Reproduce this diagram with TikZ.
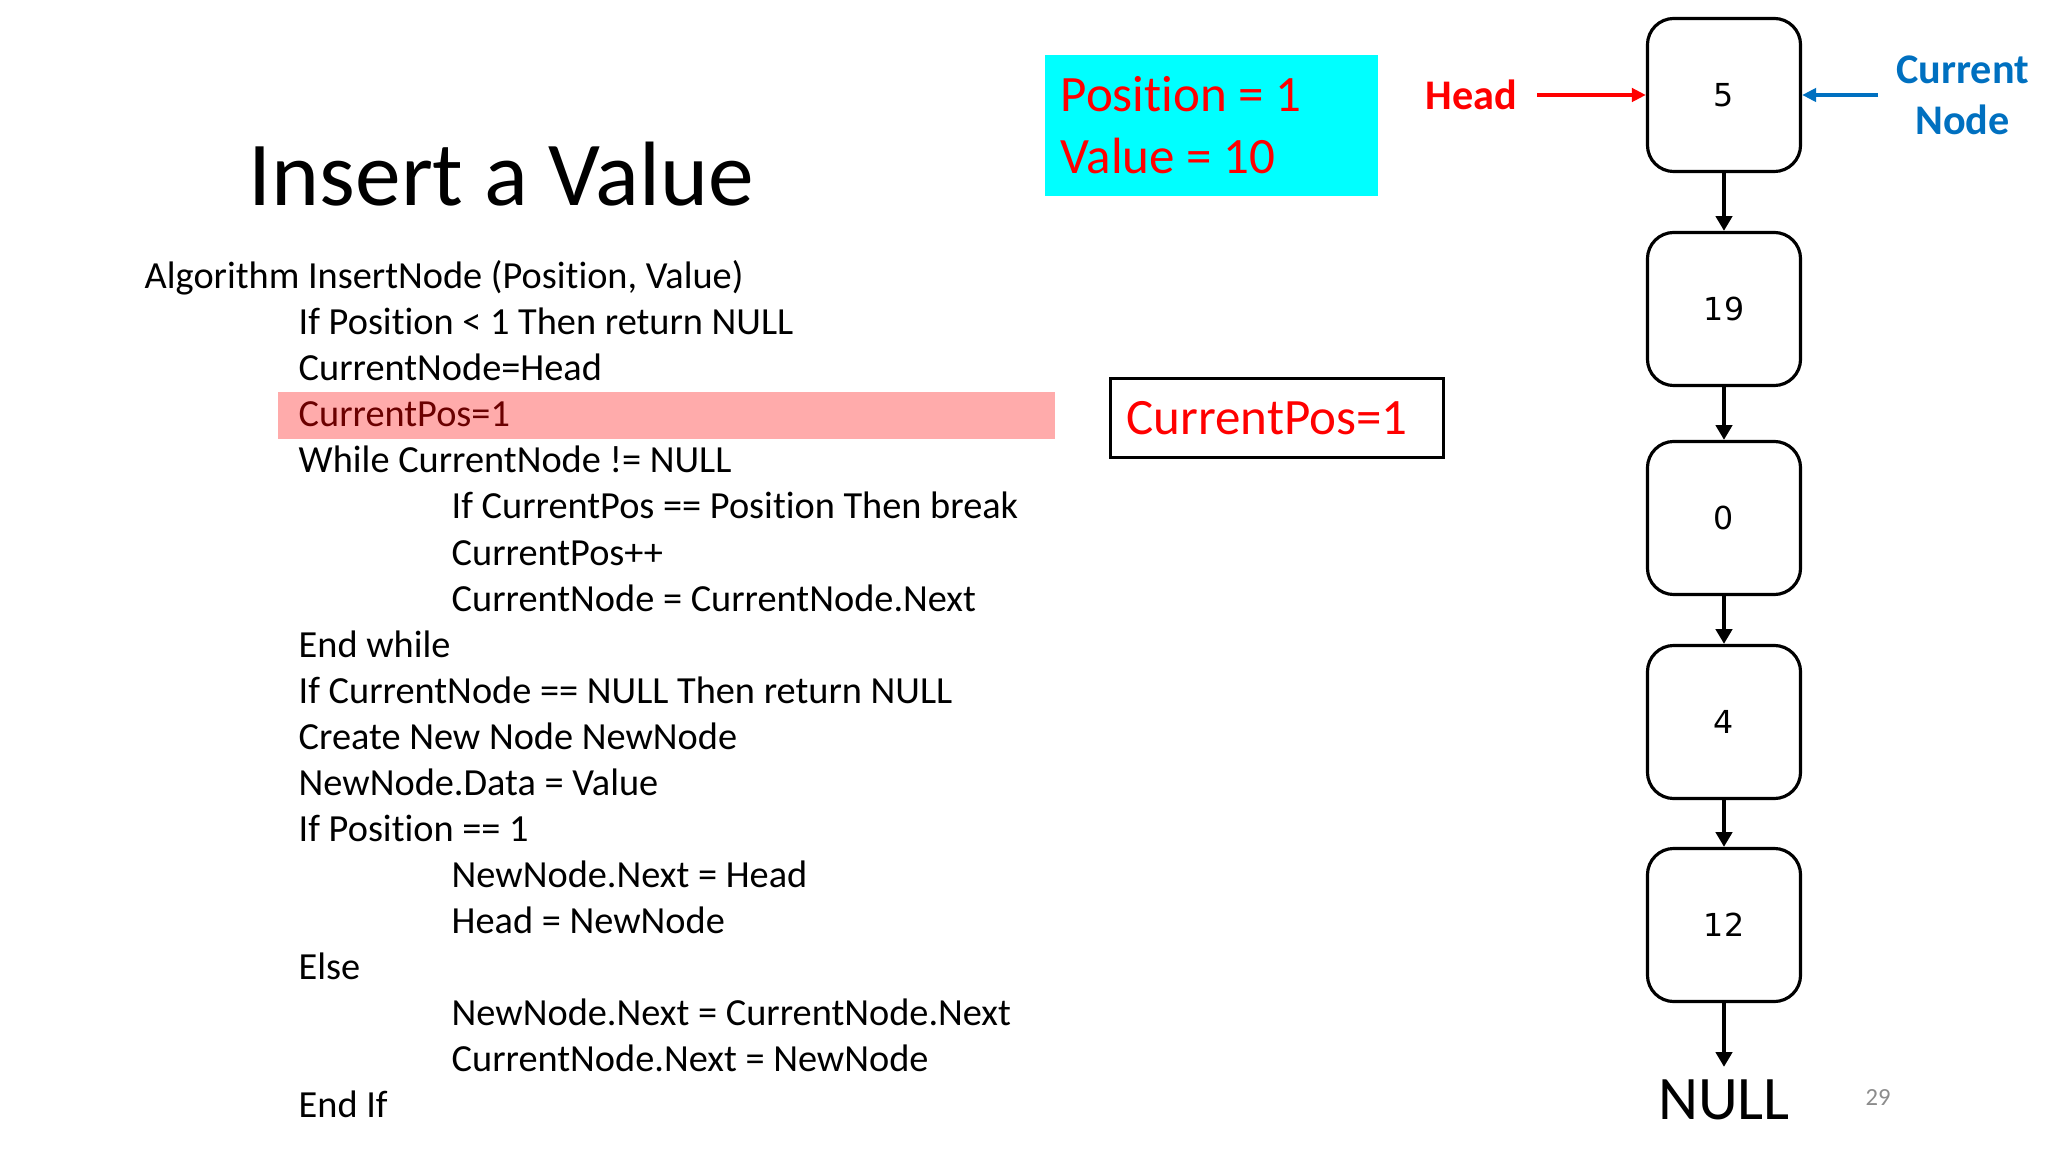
\documentclass[tikz,border=0pt]{standalone}
\usepackage{fontspec}
\setmainfont{Carlito}[Ligatures=NoCommon]
\newfontfamily\numfont{DejaVu Sans}
\usepackage{tikz}
\usetikzlibrary{arrows.meta}
\definecolor{hlpink}{HTML}{FFABAB}
\definecolor{hlred}{HTML}{6B0000}
\definecolor{boxcyan}{HTML}{00FFFF}
\definecolor{curblue}{HTML}{0070C0}
\definecolor{pagegray}{HTML}{8C8C8C}
\tikzset{
  codeline/.style={anchor=base west, inner sep=0pt, font=\fontsize{10.9}{13}\selectfont},
  redtext/.style={anchor=base west, inner sep=0pt, text=red, font=\fontsize{14.5}{17}\selectfont},
  listnode/.style={draw, line width=0.9pt, rounded corners=7.5pt, minimum width=1.53cm,
    minimum height=1.53cm, font=\numfont\fontsize{9}{10}\selectfont},
  link/.style={line width=1.3pt, -{Triangle[length=4.2pt,width=4.6pt]}},
  pointer/.style={line width=1.1pt, -{Triangle[length=4pt,width=3.8pt]}}
}

\begin{document}
\begin{tikzpicture}[x=0.01cm,y=-0.01cm]
%%%%%%%%%%%%%%%%%%Fix The Slide Size%%%%%%%%%%%%%%%%%%
\useasboundingbox (0,0) rectangle (2048,1152);

%%%%%%%%%%%%%%%%%%%%Draw The Title%%%%%%%%%%%%%%%%%%%%%
\node[anchor=base west, inner sep=0pt, font=\fontsize{26}{31}\selectfont] (title) at (248,206) {Insert a Value};

%%%%%%%%%%%%%Draw Highlight of Current Line%%%%%%%%%%%%
\fill[hlpink] (278,392) rectangle (1055,439);

%%%%%%%%%%%%%%%%%%Draw The Algorithm%%%%%%%%%%%%%%%%%%%
\node[codeline] (ln0) at (144,289) {Algorithm InsertNode (Position, Value)};
\node[codeline] (ln1) at (298,335) {If Position < 1 Then return NULL};
\node[codeline] (ln2) at (298,381) {CurrentNode=Head};
\node[codeline, text=hlred] (ln3) at (298,427) {CurrentPos=1};
\node[codeline] (ln4) at (298,473) {While CurrentNode != NULL};
\node[codeline] (ln5) at (451,519) {If CurrentPos == Position Then break};
\node[codeline] (ln6) at (451,565) {CurrentPos++};
\node[codeline] (ln7) at (451,611) {CurrentNode = CurrentNode.Next};
\node[codeline] (ln8) at (298,657) {End while};
\node[codeline] (ln9) at (298,703) {If CurrentNode == NULL Then return NULL};
\node[codeline] (ln10) at (298,749) {Create New Node NewNode};
\node[codeline] (ln11) at (298,795) {NewNode.Data = Value};
\node[codeline] (ln12) at (298,841) {If Position == 1};
\node[codeline] (ln13) at (451,887) {NewNode.Next = Head};
\node[codeline] (ln14) at (451,933) {Head = NewNode};
\node[codeline] (ln15) at (298,979) {Else};
\node[codeline] (ln16) at (451,1025) {NewNode.Next = CurrentNode.Next};
\node[codeline] (ln17) at (451,1071) {CurrentNode.Next = NewNode};
\node[codeline] (ln18) at (298,1117) {End If};

%%%%%%%%%%%%%%%%%Draw The Input Values%%%%%%%%%%%%%%%%%
\node[fill=boxcyan, anchor=north west, minimum width=3.33cm, minimum height=1.41cm] (params) at (1044,54) {};
\node[redtext] (posval) at (1060,112) {Position = 1};
\node[redtext] (valval) at (1060,174) {Value = 10};

%%%%%%%%%%%%%%%%%Draw The Counter Box%%%%%%%%%%%%%%%%%%
\node[draw, line width=0.75pt, anchor=north west, minimum width=3.33cm, minimum height=0.79cm] (posbox) at (1109,377) {};
\node[redtext] (counter) at (1126,435) {CurrentPos=1};

%%%%%%%%%%%%%%%%%Draw The Linked List%%%%%%%%%%%%%%%%%%
\node[listnode] (n1) at (1724,95) {5};
\node[listnode] (n2) at (1724,309) {19};
\node[listnode] (n3) at (1724,518) {0};
\node[listnode] (n4) at (1724,722) {4};
\node[listnode] (n5) at (1724,925) {12};
\node[anchor=base, font=\fontsize{17.6}{21}\selectfont] (nullnode) at (1724,1119) {NULL};

\draw[link] (n1) -- (n2);
\draw[link] (n2) -- (n3);
\draw[link] (n3) -- (n4);
\draw[link] (n4) -- (n5);
\draw[link] (n5) -- (nullnode);

%%%%%%%%%%%%%%%%Draw Head and Current%%%%%%%%%%%%%%%%%%
\node[anchor=east, inner sep=5.4pt, text=red, font=\bfseries\fontsize{12}{14.5}\selectfont] (head) at (1537,95) {Head};
\draw[pointer, red] (head) -- (n1);

\node[anchor=west, inner sep=5pt, align=center, text=curblue, font=\bfseries\fontsize{12}{14.5}\selectfont] (current) at (1878,95) {Current\\Node};
\draw[pointer, curblue] (current) -- (n1);

%%%%%%%%%%%%%%%%%%%Draw Page Number%%%%%%%%%%%%%%%%%%%%
\node[text=pagegray, font=\fontsize{7}{8}\selectfont] (pagenum) at (1878,1098) {29};
\end{tikzpicture}
\end{document}
